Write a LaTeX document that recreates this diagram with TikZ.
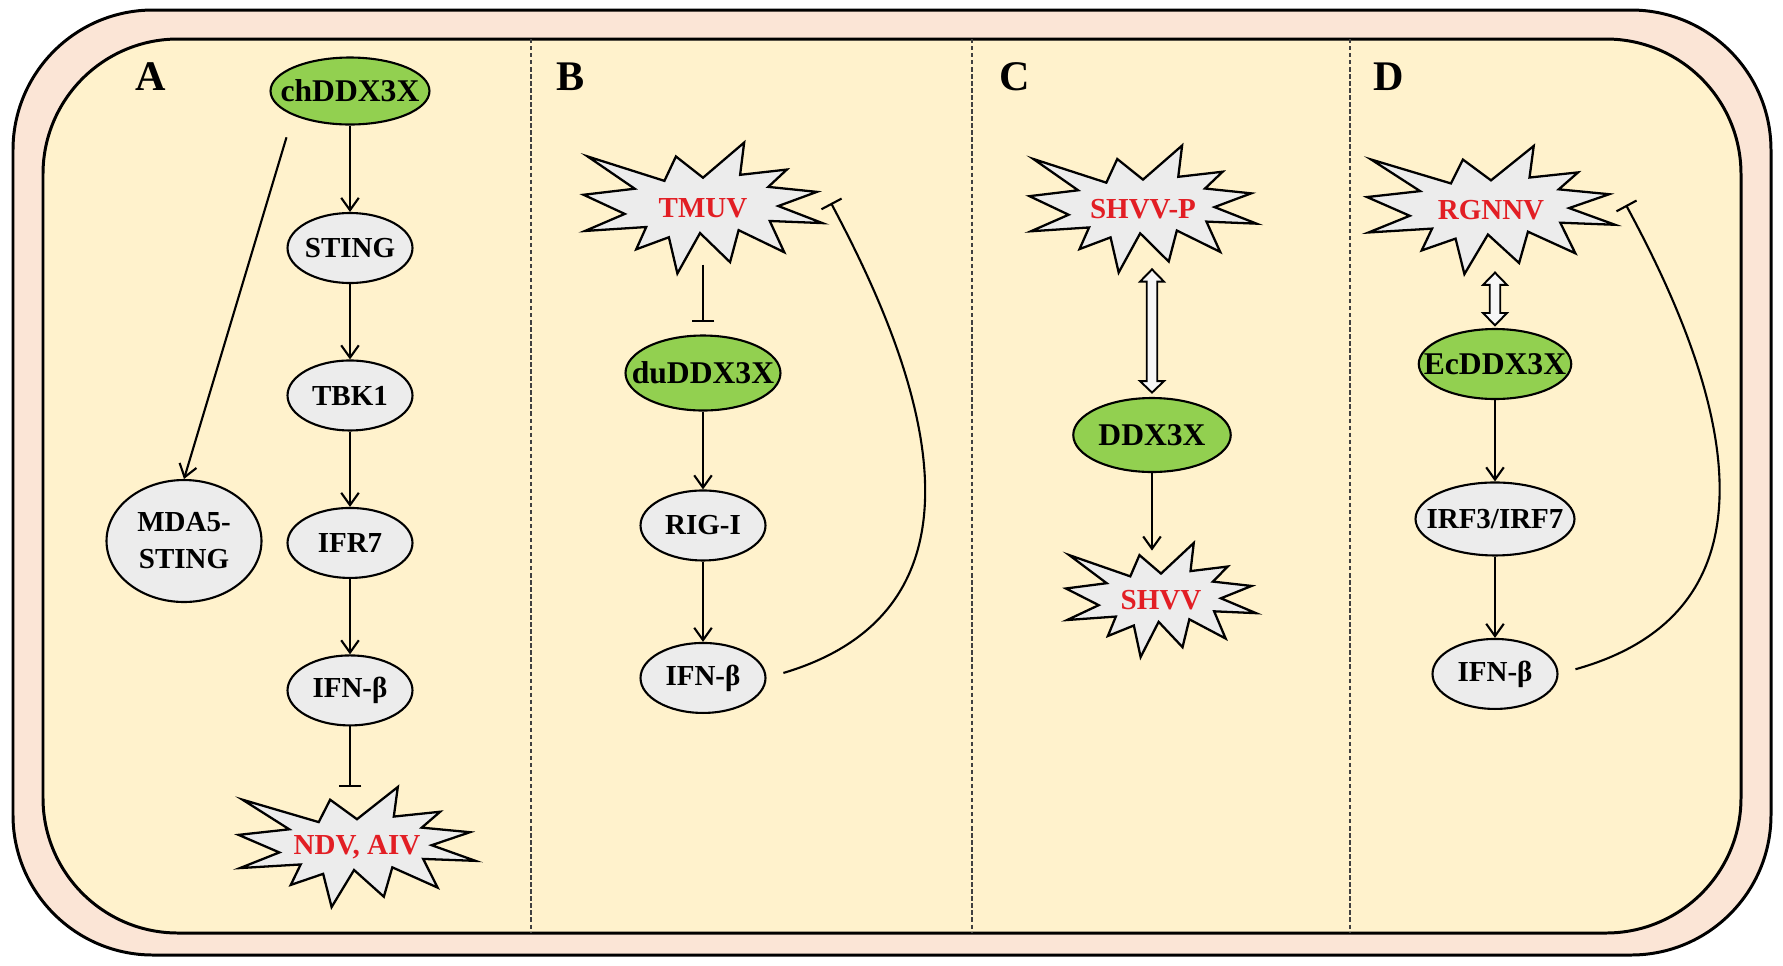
\documentclass[tikz,border=0pt]{standalone}
\usepackage{fontspec}
\setmainfont{Liberation Serif}
\usepackage{tikz}
\usetikzlibrary{shapes,arrows.meta,positioning,calc}
\definecolor{cellbg}{RGB}{255,242,204}
\definecolor{membr}{RGB}{251,229,214}
\definecolor{ddxgreen}{RGB}{146,208,80}
\definecolor{protgray}{RGB}{236,236,236}
\definecolor{virred}{RGB}{226,30,36}
% explosion outline, centred, 216 x 216 units
\newcommand{\boompath}{(0,-50) -- (-24.48,-85.05) -- (-34.88,-44.8) -- (-104.3,-85.05) -- (-61.73,-31.83) -- (-108,-21.85) -- (-70.78,9.75) -- (-106.65,37.87) -- (-51.33,31.37) -- (-60.38,68.17) -- (-30.85,48.27) -- (-23.15,108) -- (-2.68,41.35) -- (24.47,89.37) -- (32.2,36.57) -- (73.45,72.95) -- (60.37,21.42) -- (108,24.9) -- (68.07,-3.25) -- (102.97,-26.63) -- (59.02,-34.85) -- (75.8,-63.43) -- (33.55,-54.75) -- (37.22,-108) -- cycle}
\tikzstyle{prot} = [ellipse, draw, line width=1.2pt, fill=protgray, inner xsep=-14pt, inner ysep=0pt, minimum width=2.5cm, minimum height=1.4cm, font=\fontsize{16.5}{21}\selectfont\bfseries]
\tikzstyle{host} = [prot, fill=ddxgreen, font=\fontsize{18}{21}\selectfont\bfseries]
\tikzstyle{boom} = [draw, line width=1.3pt, fill=protgray, line join=miter]
\tikzstyle{virus} = [ellipse, inner sep=0pt, text=virred, font=\fontsize{16.5}{21}\selectfont\bfseries]
\tikzstyle{lab} = [font=\fontsize{24}{26}\selectfont\bfseries]
\tikzstyle{act} = [-{Straight Barb[length=7pt,width=10pt]}, line width=1.2pt]
\tikzstyle{inh} = [-{Bar[width=13pt]}, line width=1.2pt]
\tikzstyle{bind} = [draw, line width=1.1pt, fill=gray!6, line join=miter]

\begin{document}
\begin{tikzpicture}[x=0.02cm, y=-0.02cm, node distance=2.95cm]
    \useasboundingbox (0,0) rectangle (1783,965);
    % cell
    \draw[line width=1.7pt, fill=membr, rounded corners=2.8cm] (13,10) rectangle (1771,955);
    \draw[line width=1.7pt, fill=cellbg, rounded corners=2.7cm] (43,39) rectangle (1741,933);
    \foreach \xd in {531,972,1350}
        \draw[line width=0.6pt, dash pattern=on 2.5pt off 1.5pt, black!75] (\xd,39) -- (\xd,933);

    % A
    \node[lab] (labA) at (151,77) {A};
    \node[host, minimum width=3.18cm, minimum height=1.34cm] (chddx) at (350,91) {chDDX3X};
    \node[prot] (stingA) at (350,248) {STING};
    \node[prot, below of=stingA] (tbk) {TBK1};
    \node[prot, below of=tbk] (ifr) {IFR7};
    \node[prot, below of=ifr] (ifnA) {IFN-β};
    \draw[boom, shift={(357,847)}, xscale=1.097, yscale=0.556] \boompath;
    \node[virus, minimum width=4.7cm, minimum height=2.4cm] (ndv) at (357,847) {NDV, AIV};
    \node[prot, minimum width=3.1cm, minimum height=2.44cm, align=center] (mda) at (184,541) {MDA5-\\STING};
    \draw[act] (chddx) -- (stingA);
    \draw[act] (stingA) -- (tbk);
    \draw[act] (tbk) -- (ifr);
    \draw[act] (ifr) -- (ifnA);
    \draw[inh] (ifnA) -- (ifnA |- ndv.north);
    \draw[act, shorten <=13pt] (chddx.south west) -- (mda.north);

    % B
    \node[lab] (labB) at (571,77) {B};
    \draw[boom, shift={(703,208)}, xscale=1.106, yscale=0.606] \boompath;
    \node[virus, minimum width=4.8cm, minimum height=2.6cm] (tmuv) at (703,208) {TMUV};
    \node[host, minimum width=3.1cm, minimum height=1.5cm] (dudd) at (703,373) {duDDX3X};
    \node[prot, below of=dudd, node distance=3.05cm] (rig) {RIG-I};
    \node[prot, below of=rig, node distance=3.05cm] (ifnB) {IFN-β};
    \coordinate (fbB) at (831,203);
    \draw[inh, shorten <=-5pt, shorten >=7pt] (tmuv) -- (dudd);
    \draw[act] (dudd) -- (rig);
    \draw[act] (rig) -- (ifnB);
    \draw[inh, shorten <=10pt] (ifnB.east) .. controls (1029,600) and (894,322) .. (fbB);

    % C
    \node[lab] (labC) at (1015,77) {C};
    \draw[boom, shift={(1143,209)}, xscale=1.051, yscale=0.588] \boompath;
    \node[virus, minimum width=4.5cm, minimum height=2.54cm] (shvvp) at (1143,209) {SHVV-P};
    \node[host, minimum width=3.15cm, minimum height=1.48cm] (ddx) at (1152,435) {DDX3X};
    \draw[boom, shift={(1161,600)}, xscale=0.88, yscale=0.528] \boompath;
    \node[virus, minimum width=3.8cm, minimum height=2.28cm] (shvv) at (1161,600) {SHVV};
    \draw[bind] let \p1=(shvvp.south -| ddx), \p2=(ddx.north) in
        (\x1,\y1+2pt) -- (\x1+6.8pt,\y1-5pt) -- (\x1+3pt,\y1-5pt) -- (\x1+3pt,\y2+9pt)
        -- (\x1+6.8pt,\y2+9pt) -- (\x1,\y2+2.5pt) -- (\x1-6.8pt,\y2+9pt) -- (\x1-3pt,\y2+9pt)
        -- (\x1-3pt,\y1-5pt) -- (\x1-6.8pt,\y1-5pt) -- cycle;
    \draw[act, shorten >=-4.5pt] (ddx) -- (ddx |- shvv.north);

    % D
    \node[lab] (labD) at (1389,77) {D};
    \draw[boom, shift={(1491,210)}, xscale=1.148, yscale=0.593] \boompath;
    \node[virus, minimum width=4.96cm, minimum height=2.56cm] (rgnnv) at (1491,210) {RGNNV};
    \node[host, minimum width=3.05cm, minimum height=1.4cm] (ecdd) at (1495,364) {EcDDX3X};
    \node[prot, below of=ecdd, node distance=3.1cm, minimum width=3.18cm, minimum height=1.46cm] (irf) {IRF3/IRF7};
    \node[prot, below of=irf, node distance=3.1cm] (ifnD) {IFN-β};
    \coordinate (fbD) at (1626,205);
    \draw[bind] let \p1=(rgnnv.south -| ecdd), \p2=(ecdd.north) in
        (\x1,\y1+1pt) -- (\x1+6.8pt,\y1-6pt) -- (\x1+3pt,\y1-6pt) -- (\x1+3pt,\y2+8.5pt)
        -- (\x1+6.8pt,\y2+8.5pt) -- (\x1,\y2+1.5pt) -- (\x1-6.8pt,\y2+8.5pt) -- (\x1-3pt,\y2+8.5pt)
        -- (\x1-3pt,\y1-6pt) -- (\x1-6.8pt,\y1-6pt) -- cycle;
    \draw[act] (ecdd) -- (irf);
    \draw[act] (irf) -- (ifnD);
    \draw[inh, shorten <=10pt] (ifnD.east) .. controls (1824,600) and (1689,322) .. (fbD);
\end{tikzpicture}
\end{document}
